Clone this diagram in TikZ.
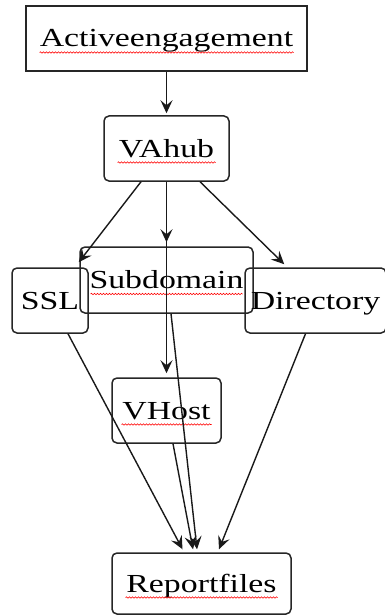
\documentclass[tikz,border=0pt]{standalone}
\usepackage{fontspec}
\setmainfont{Liberation Serif}[FakeStretch=1.3]
\usetikzlibrary{arrows.meta,decorations.pathmorphing}
\begin{document}
\begin{tikzpicture}[x=1pt,y=-1pt,
    box/.style={draw=black!85,line width=1.5pt,inner sep=0pt,text height=17pt,text depth=0pt,
      font=\fontsize{26}{30}\selectfont},
    rbox/.style={box,rounded corners=5pt},
    arr/.style={-{Stealth[length=13pt,width=12pt,inset=5pt]},line width=1.4pt,black!90},
    wavy/.style={red,line width=0.6pt,decorate,decoration={snake,segment length=3pt,amplitude=0.7pt}}]
  \useasboundingbox (0,0) rectangle (384,615);

  \node[box,minimum width=281pt,minimum height=65pt]  (act) at (166.5,38.5) {Activeengagement};
  \node[rbox,minimum width=125pt,minimum height=65pt] (hub) at (166.5,148.5) {VAhub};
  \node[rbox,minimum width=76pt,minimum height=65pt]  (ssl) at (50,300.5) {SSL};
  \node[rbox,minimum width=173pt,minimum height=66pt] (sub) at (166.5,280) {Subdomain};
  \node[rbox,minimum width=141pt,minimum height=65pt] (dir) at (315.5,300.5) {Directory};
  \node[rbox,minimum width=109pt,minimum height=65pt] (vh)  at (166.5,410.5) {VHost};
  \node[rbox,minimum width=179pt,minimum height=61pt] (rep) at (201.5,583.5) {Reportfiles};

  \draw[wavy] ([xshift=-127pt,yshift=-14pt]act.center) -- ++(254,0);
  \draw[wavy] ([xshift=-49pt,yshift=-14pt]hub.center) -- ++(98,0);
  \draw[wavy] ([xshift=-76pt,yshift=-14pt]sub.center) -- ++(152,0);
  \draw[wavy] ([xshift=-45pt,yshift=-14pt]vh.center) -- ++(90,0);
  \draw[wavy] ([xshift=-76pt,yshift=-14pt]rep.center) -- ++(152,0);

  \draw[arr] (act.south) -- ([yshift=2pt]hub.north);
  \draw[arr] ([xshift=-25.5pt]hub.south) -- ([xshift=-10pt,yshift=5pt]ssl.north east);
  \draw[arr] (hub.south) -- ([yshift=4pt]sub.north);
  \draw[arr] (hub.south) -- ([yshift=4pt]vh.north);
  \draw[arr] ([xshift=33.5pt]hub.south) -- ([xshift=40pt,yshift=3pt]dir.north west);
  \draw[arr] ([xshift=18pt]ssl.south) -- ([xshift=-19pt,yshift=3pt]rep.north);
  \draw[arr] ([xshift=4.5pt]sub.south) -- ([xshift=-4.5pt,yshift=3pt]rep.north);
  \draw[arr] ([xshift=6.5pt]vh.south) -- ([xshift=-8.5pt,yshift=3pt]rep.north);
  \draw[arr] ([xshift=-10pt]dir.south) -- ([xshift=17.5pt,yshift=3pt]rep.north);
\end{tikzpicture}
\end{document}
